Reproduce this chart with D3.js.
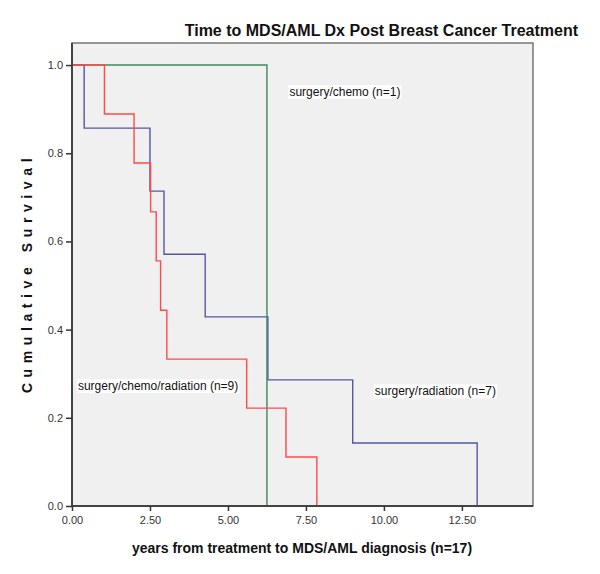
<!DOCTYPE html>
<html><head><meta charset="utf-8">
<script src="https://cdn.jsdelivr.net/npm/d3@7"></script>
<style>body{margin:0;background:#fff;} text{font-family:Arial,"Liberation Sans",sans-serif;}</style>
</head><body>
<svg id="c" width="600" height="574"></svg>
<script>
const title = "Time to MDS/AML Dx Post Breast Cancer Treatment";
const xLabel = "years from treatment to MDS/AML diagnosis (n=17)";
const yLabel = "Cumulative Survival";
const xTicks = [0, 2.5, 5, 7.5, 10, 12.5];
const yTicks = [0, 0.2, 0.4, 0.6, 0.8, 1.0];

const groups = ["surgery/radiation (n=7)", "surgery/chemo (n=1)", "surgery/chemo/radiation (n=9)"];
const radiationTimes = [0.39, 2.5, 2.95, 4.27, 6.28, 9.0, 12.99];
const radiationSurv  = [0.857, 0.714, 0.571, 0.429, 0.286, 0.143, 0];
const chemoTimes = [6.25];
const chemoSurv  = [0];
const chemoRadTimes = [1.04, 1.99, 2.52, 2.70, 2.84, 3.04, 5.6, 6.86, 7.85];
const chemoRadSurv  = [0.889, 0.778, 0.667, 0.556, 0.444, 0.333, 0.222, 0.111, 0];
const colors = ["#5656a2", "#3e8a5c", "#ff4a4a"];
const labelPos = [[11.65, 0.258], [8.75, 0.937], [2.76, 0.27]];

const svg = d3.select("#c");
const L = 72, R = 533, T = 43, B = 506;
const x = d3.scaleLinear().domain([0, 14.78]).range([L, R]);
const y = d3.scaleLinear().domain([0, 1.05]).range([B, T]);

svg.append("rect").attr("x", L).attr("y", T).attr("width", R - L).attr("height", B - T)
  .attr("fill", "#f0f0f0").attr("stroke", "#777").attr("stroke-width", 1.5);

const series = [
  [radiationTimes, radiationSurv],
  [chemoTimes, chemoSurv],
  [chemoRadTimes, chemoRadSurv]
];
const line = d3.line().x(d => x(d[0])).y(d => y(d[1])).curve(d3.curveStepAfter);
series.forEach((s, i) => {
  const pts = [[0, 1]].concat(s[0].map((t, j) => [t, s[1][j]]));
  svg.append("path").attr("d", line(pts)).attr("fill", "none")
    .attr("stroke", colors[i]).attr("stroke-width", 1.4);
});

// labels with white backgrounds
groups.forEach((g, i) => {
  const t = svg.append("text").attr("x", x(labelPos[i][0])).attr("y", y(labelPos[i][1]))
    .attr("text-anchor", "middle").attr("dominant-baseline", "middle")
    .attr("font-size", 12).attr("fill", "#111").text(g);
  const bb = t.node().getBBox();
  svg.insert("rect", () => t.node()).attr("x", bb.x - 1).attr("y", bb.y).attr("width", bb.width + 2)
    .attr("height", bb.height).attr("fill", "#fff");
});

// axes
const xa = svg.append("g").attr("transform", `translate(0,${B})`)
  .call(d3.axisBottom(x).tickValues(xTicks).tickFormat(d3.format(".2f")).tickSizeOuter(0).tickSize(5));
const ya = svg.append("g").attr("transform", `translate(${L},0)`)
  .call(d3.axisLeft(y).tickValues(yTicks).tickFormat(d3.format(".1f")).tickSizeOuter(0).tickSize(6));
[xa, ya].forEach(a => {
  a.select(".domain").attr("stroke", "#444").attr("stroke-width", 2);
  a.selectAll(".tick line").attr("stroke", "#333").attr("stroke-width", 1.5);
  a.selectAll(".tick text").attr("font-size", 11).attr("fill", "#333")
    .attr("font-family", "Arial,'Liberation Sans',sans-serif");
});
ya.select(".domain").attr("d", `M0,${B}V${T}`);
xa.select(".domain").attr("d", `M${L},0H${R}`);
xa.selectAll(".tick text").attr("dy", "0.9em");

svg.append("text").attr("x", 578).attr("y", 36).attr("text-anchor", "end")
  .attr("font-size", 16).attr("font-weight", "bold").attr("fill", "#111").text(title);
svg.append("text").attr("x", 302).attr("y", 553).attr("text-anchor", "middle")
  .attr("font-size", 14).attr("font-weight", "bold").attr("fill", "#111").text(xLabel);
svg.append("text").attr("transform", "translate(32,273) rotate(-90)").attr("text-anchor", "middle")
  .attr("font-size", 14).attr("font-weight", "bold").attr("letter-spacing", 5.6).attr("fill", "#111").text(yLabel);
</script>
</body></html>
